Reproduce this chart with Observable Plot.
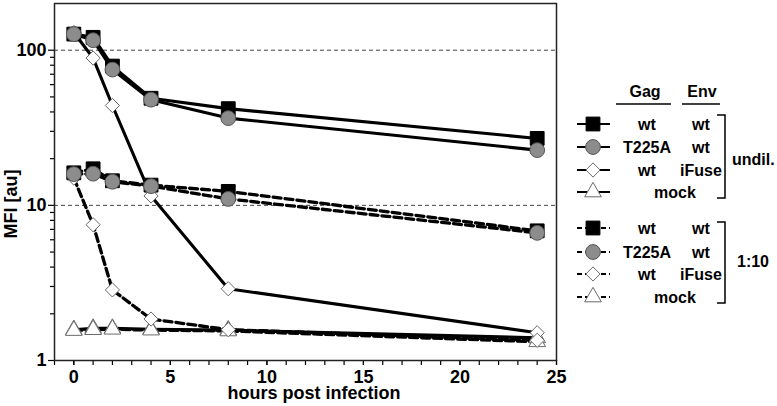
<!DOCTYPE html>
<html>
<head>
<meta charset="utf-8">
<script src="https://cdn.jsdelivr.net/npm/d3@7"></script>
<script src="https://cdn.jsdelivr.net/npm/@observablehq/plot@0.6"></script>
<style>
  html, body { margin: 0; padding: 0; background: white; }
  #chart svg { display: block; }
  #chart svg g[aria-label="x-axis tick label"],
  #chart svg g[aria-label="y-axis tick label"] {
    font-size: 18px !important;
    font-weight: bold !important;
    font-family: 'Liberation Sans', Arial, Helvetica, sans-serif !important;
  }
</style>
</head>
<body>
<div id="chart"></div>
<script>
// ---- data ----
const hours = [0, 1, 2, 4, 8, 24];
const undilWt     = [127, 121, 79, 49, 42, 27];
const undilT225A  = [127, 116, 75, 48, 36.5, 22.7];
const undilIFuse  = [130, 89, 44, 11.5, 2.9, 1.51];
const undilMock   = [1.58, 1.61, 1.61, 1.59, 1.57, 1.40];
const dilWt       = [16.2, 17.2, 14.4, 13.5, 12.3, 6.85];
const dilT225A    = [15.9, 16.0, 14.2, 13.3, 11.0, 6.65];
const dilIFuse    = [15.0, 7.5, 2.85, 1.85, 1.58, 1.35];
const dilMock     = [1.56, 1.58, 1.59, 1.57, 1.55, 1.32];

const xMajorTicks = [0, 5, 10, 15, 20, 25];
const xMinorTicks = d3.range(-1, 26);
const yMajorTicks = [1, 10, 100];
const yMinorTicks = [2, 3, 4, 5, 6, 7, 8, 9, 20, 30, 40, 50, 60, 70, 80, 90];
const gridValues = [10, 100];

const seriesDefs = [
  {key: "wt",    dil: "undil", values: undilWt},
  {key: "T225A", dil: "undil", values: undilT225A},
  {key: "iFuse", dil: "undil", values: undilIFuse},
  {key: "mock",  dil: "undil", values: undilMock},
  {key: "wt",    dil: "1:10",  values: dilWt},
  {key: "T225A", dil: "1:10",  values: dilT225A},
  {key: "iFuse", dil: "1:10",  values: dilIFuse},
  {key: "mock",  dil: "1:10",  values: dilMock}
];
const rows = seriesDefs.flatMap(s => hours.map((h, i) => ({series: s.key + "|" + s.dil, key: s.key, dil: s.dil, hours: h, value: s.values[i]})));

// marker styles
const markerStyle = {
  wt:    {symbol: "square",   r: 7.8, fill: "black",   stroke: "black"},
  T225A: {symbol: "circle",   r: 7.4, fill: "#8c8c8c", stroke: "#555"},
  iFuse: {symbol: "diamond2", r: 6.4, fill: "white",   stroke: "#6a6a6a"},
  mock:  {symbol: "triangle", r: 6.2, fill: "white",   stroke: "#6a6a6a"}
};
const markerOrder = ["mock", "iFuse", "wt", "T225A"];

const font = "'Liberation Sans', Arial, Helvetica, sans-serif";

const plot = Plot.plot({
  width: 777,
  height: 406,
  marginLeft: 54,
  marginRight: 221,
  marginTop: 3,
  marginBottom: 46,
  x: {domain: [-1, 25]},
  y: {type: "log", domain: [1, 200]},
  style: {fontFamily: font, fontSize: "18px", fontWeight: "bold", color: "black", background: "white", overflow: "visible"},
  marks: [
    Plot.ruleY(gridValues, {stroke: "#444", strokeWidth: 1, strokeDasharray: "4,3"}),
    Plot.axisX({ticks: xMinorTicks, tickSize: 5, tickFormat: () => "", label: null, strokeWidth: 1.2}),
    Plot.axisX({ticks: xMajorTicks, tickSize: 5, tickPadding: 5, label: null, fontSize: 18, fontWeight: "bold", strokeWidth: 1.2}),
    Plot.axisY({ticks: yMinorTicks, tickSize: 4, tickFormat: () => "", label: null, strokeWidth: 1.2}),
    Plot.axisY({ticks: yMajorTicks, tickSize: 6, tickPadding: 2, tickFormat: d => String(d), label: null, fontSize: 18, fontWeight: "bold", strokeWidth: 1.2}),
    Plot.frame({stroke: "#222", strokeWidth: 1.5}),
    Plot.line(rows, {filter: d => d.dil === "1:10", x: "hours", y: "value", z: "series", stroke: "black", strokeWidth: 3.3, strokeDasharray: "8,4"}),
    Plot.line(rows, {filter: d => d.dil === "undil", x: "hours", y: "value", z: "series", stroke: "black", strokeWidth: 3.1}),
    ...markerOrder.map(k => Plot.dot(rows, {
      filter: d => d.key === k,
      x: "hours", y: "value",
      symbol: () => markerStyle[k].symbol,
      r: markerStyle[k].r,
      fill: markerStyle[k].fill,
      stroke: markerStyle[k].stroke,
      strokeWidth: 1
    }))
  ]
});

document.getElementById("chart").appendChild(plot);

// ---- axis titles and legend ----
const svg = d3.select(plot);
svg.append("text")
  .attr("x", 314).attr("y", 399)
  .attr("text-anchor", "middle")
  .attr("font-family", font).attr("font-size", 18).attr("font-weight", "bold")
  .text("hours post infection");
svg.append("text")
  .attr("transform", "translate(17,204) rotate(-90)")
  .attr("text-anchor", "middle")
  .attr("font-family", font).attr("font-size", 18).attr("font-weight", "bold")
  .text("MFI [au]");

const legendHeaders = [{t: "Gag", x: 645, x0: 616, x1: 671}, {t: "Env", x: 702, x0: 682, x1: 720}];
const legendRows = [
  {key: "wt",    dil: "undil", c1: "wt",    c2: "wt",    y: 124},
  {key: "T225A", dil: "undil", c1: "T225A", c2: "wt",    y: 147},
  {key: "iFuse", dil: "undil", c1: "wt",    c2: "iFuse", y: 170},
  {key: "mock",  dil: "undil", c1: "mock",  c2: null,    y: 192},
  {key: "wt",    dil: "1:10",  c1: "wt",    c2: "wt",    y: 228},
  {key: "T225A", dil: "1:10",  c1: "T225A", c2: "wt",    y: 252},
  {key: "iFuse", dil: "1:10",  c1: "wt",    c2: "iFuse", y: 274},
  {key: "mock",  dil: "1:10",  c1: "mock",  c2: null,    y: 297}
];
const groupLabels = [{t: "undil.", y0: 115, y1: 198, tx: 732, ty: 165, anchor: "start"}, {t: "1:10", y0: 222, y1: 303, tx: 753, ty: 267, anchor: "middle"}];

const lg = svg.append("g").attr("font-family", font).attr("font-size", 16).attr("font-weight", "bold");
legendHeaders.forEach(h => {
  lg.append("text").attr("x", h.x).attr("y", 97).attr("text-anchor", "middle").text(h.t);
  lg.append("line").attr("x1", h.x0).attr("x2", h.x1).attr("y1", 104).attr("y2", 104).attr("stroke", "black").attr("stroke-width", 1.5);
});
const symMap = {square: d3.symbolSquare, circle: d3.symbolCircle, diamond2: d3.symbolDiamond2, triangle: d3.symbolTriangle};
legendRows.forEach(r => {
  const ms = markerStyle[r.key];
  lg.append("line").attr("x1", 577).attr("x2", 610).attr("y1", r.y).attr("y2", r.y)
    .attr("stroke", "black").attr("stroke-width", 2)
    .attr("stroke-dasharray", r.dil === "1:10" ? "5,3" : null);
  lg.append("path")
    .attr("transform", `translate(593,${r.y})`)
    .attr("d", d3.symbol(symMap[ms.symbol], Math.PI * ms.r * ms.r)())
    .attr("fill", ms.fill).attr("stroke", ms.stroke).attr("stroke-width", 1);
  if (r.c2 === null) {
    lg.append("text").attr("x", 675).attr("y", r.y + 6).attr("text-anchor", "middle").text(r.c1);
  } else {
    lg.append("text").attr("x", 647).attr("y", r.y + 6).attr("text-anchor", "middle").text(r.c1);
    lg.append("text").attr("x", 701).attr("y", r.y + 6).attr("text-anchor", "middle").text(r.c2);
  }
});
groupLabels.forEach(g => {
  lg.append("path")
    .attr("d", `M717,${g.y0}H725V${g.y1}H717`)
    .attr("fill", "none").attr("stroke", "black").attr("stroke-width", 1.5);
  lg.append("text").attr("x", g.tx).attr("y", g.ty).attr("text-anchor", g.anchor).text(g.t);
});
</script>
</body>
</html>
